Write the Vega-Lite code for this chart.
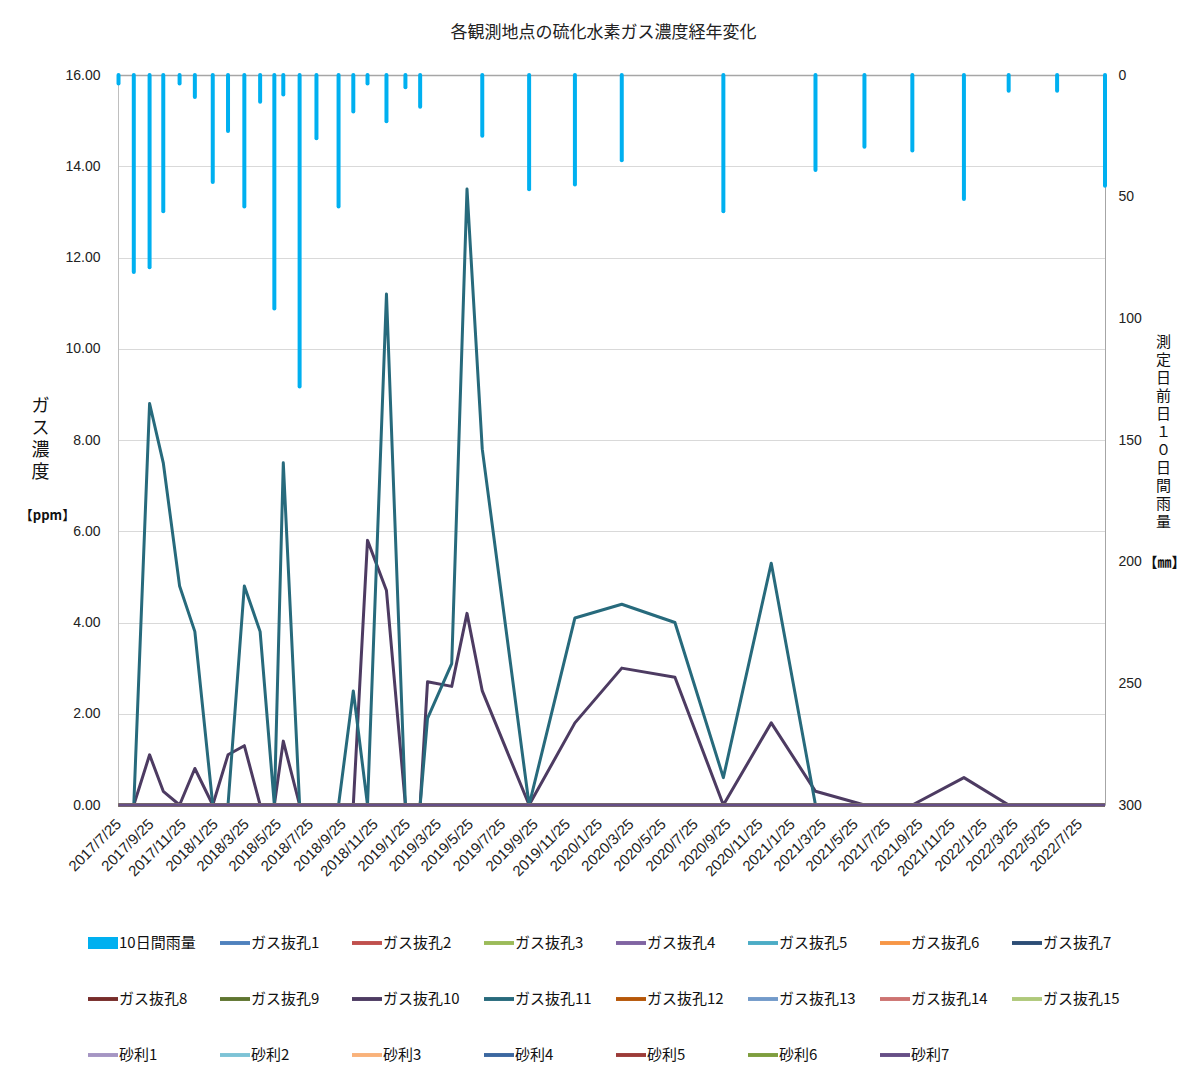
{
  "$schema": "https://vega.github.io/schema/vega-lite/v6.json",
  "autosize": {"type": "none"},
  "width": 987,
  "height": 730,
  "padding": {"left": 118, "top": 75, "right": 83, "bottom": 283},
  "background": "white",
  "config": {"view": {"stroke": null}, "font": "Noto Sans CJK JP"},
  "title": {"text": "各観測地点の硫化水素ガス濃度経年変化", "fontSize": 17, "font": "Noto Sans CJK JP", "fontWeight": "normal", "color": "#222", "offset": 26, "dx": -8},
  "data": {"values": [
    {"d":"2017/07/26","rain":3.5,"ガス抜孔1":0,"ガス抜孔2":0,"ガス抜孔3":0,"ガス抜孔4":0,"ガス抜孔5":0,"ガス抜孔6":0,"ガス抜孔7":0,"ガス抜孔8":0,"ガス抜孔9":0,"ガス抜孔10":0,"ガス抜孔11":0,"ガス抜孔12":0,"ガス抜孔13":0,"ガス抜孔14":0,"ガス抜孔15":0,"砂利1":0,"砂利2":0,"砂利3":0,"砂利4":0,"砂利5":0,"砂利6":0,"砂利7":0},
    {"d":"2017/08/24","rain":81,"ガス抜孔1":0,"ガス抜孔2":0,"ガス抜孔3":0,"ガス抜孔4":0,"ガス抜孔5":0,"ガス抜孔6":0,"ガス抜孔7":0,"ガス抜孔8":0,"ガス抜孔9":0,"ガス抜孔10":0,"ガス抜孔11":0,"ガス抜孔12":0,"ガス抜孔13":0,"ガス抜孔14":0,"ガス抜孔15":0,"砂利1":0,"砂利2":0,"砂利3":0,"砂利4":0,"砂利5":0,"砂利6":0,"砂利7":0},
    {"d":"2017/09/23","rain":79,"ガス抜孔1":0,"ガス抜孔2":0,"ガス抜孔3":0,"ガス抜孔4":0,"ガス抜孔5":0,"ガス抜孔6":0,"ガス抜孔7":0,"ガス抜孔8":0,"ガス抜孔9":0,"ガス抜孔10":1.1,"ガス抜孔11":8.8,"ガス抜孔12":0,"ガス抜孔13":0,"ガス抜孔14":0,"ガス抜孔15":0,"砂利1":0,"砂利2":0,"砂利3":0,"砂利4":0,"砂利5":0,"砂利6":0,"砂利7":0},
    {"d":"2017/10/19","rain":56,"ガス抜孔1":0,"ガス抜孔2":0,"ガス抜孔3":0,"ガス抜孔4":0,"ガス抜孔5":0,"ガス抜孔6":0,"ガス抜孔7":0,"ガス抜孔8":0,"ガス抜孔9":0,"ガス抜孔10":0.3,"ガス抜孔11":7.5,"ガス抜孔12":0,"ガス抜孔13":0,"ガス抜孔14":0,"ガス抜孔15":0,"砂利1":0,"砂利2":0,"砂利3":0,"砂利4":0,"砂利5":0,"砂利6":0,"砂利7":0},
    {"d":"2017/11/19","rain":3.5,"ガス抜孔1":0,"ガス抜孔2":0,"ガス抜孔3":0,"ガス抜孔4":0,"ガス抜孔5":0,"ガス抜孔6":0,"ガス抜孔7":0,"ガス抜孔8":0,"ガス抜孔9":0,"ガス抜孔10":0,"ガス抜孔11":4.8,"ガス抜孔12":0,"ガス抜孔13":0,"ガス抜孔14":0,"ガス抜孔15":0,"砂利1":0,"砂利2":0,"砂利3":0,"砂利4":0,"砂利5":0,"砂利6":0,"砂利7":0},
    {"d":"2017/12/18","rain":9,"ガス抜孔1":0,"ガス抜孔2":0,"ガス抜孔3":0,"ガス抜孔4":0,"ガス抜孔5":0,"ガス抜孔6":0,"ガス抜孔7":0,"ガス抜孔8":0,"ガス抜孔9":0,"ガス抜孔10":0.8,"ガス抜孔11":3.8,"ガス抜孔12":0,"ガス抜孔13":0,"ガス抜孔14":0,"ガス抜孔15":0,"砂利1":0,"砂利2":0,"砂利3":0,"砂利4":0,"砂利5":0,"砂利6":0,"砂利7":0},
    {"d":"2018/01/21","rain":44,"ガス抜孔1":0,"ガス抜孔2":0,"ガス抜孔3":0,"ガス抜孔4":0,"ガス抜孔5":0,"ガス抜孔6":0,"ガス抜孔7":0,"ガス抜孔8":0,"ガス抜孔9":0,"ガス抜孔10":0,"ガス抜孔11":0,"ガス抜孔12":0,"ガス抜孔13":0,"ガス抜孔14":0,"ガス抜孔15":0,"砂利1":0,"砂利2":0,"砂利3":0,"砂利4":0,"砂利5":0,"砂利6":0,"砂利7":0},
    {"d":"2018/02/19","rain":23,"ガス抜孔1":0,"ガス抜孔2":0,"ガス抜孔3":0,"ガス抜孔4":0,"ガス抜孔5":0,"ガス抜孔6":0,"ガス抜孔7":0,"ガス抜孔8":0,"ガス抜孔9":0,"ガス抜孔10":1.1,"ガス抜孔11":0,"ガス抜孔12":0,"ガス抜孔13":0,"ガス抜孔14":0,"ガス抜孔15":0,"砂利1":0,"砂利2":0,"砂利3":0,"砂利4":0,"砂利5":0,"砂利6":0,"砂利7":0},
    {"d":"2018/03/22","rain":54,"ガス抜孔1":0,"ガス抜孔2":0,"ガス抜孔3":0,"ガス抜孔4":0,"ガス抜孔5":0,"ガス抜孔6":0,"ガス抜孔7":0,"ガス抜孔8":0,"ガス抜孔9":0,"ガス抜孔10":1.3,"ガス抜孔11":4.8,"ガス抜孔12":0,"ガス抜孔13":0,"ガス抜孔14":0,"ガス抜孔15":0,"砂利1":0,"砂利2":0,"砂利3":0,"砂利4":0,"砂利5":0,"砂利6":0,"砂利7":0},
    {"d":"2018/04/21","rain":11,"ガス抜孔1":0,"ガス抜孔2":0,"ガス抜孔3":0,"ガス抜孔4":0,"ガス抜孔5":0,"ガス抜孔6":0,"ガス抜孔7":0,"ガス抜孔8":0,"ガス抜孔9":0,"ガス抜孔10":0,"ガス抜孔11":3.8,"ガス抜孔12":0,"ガス抜孔13":0,"ガス抜孔14":0,"ガス抜孔15":0,"砂利1":0,"砂利2":0,"砂利3":0,"砂利4":0,"砂利5":0,"砂利6":0,"砂利7":0},
    {"d":"2018/05/18","rain":96,"ガス抜孔1":0,"ガス抜孔2":0,"ガス抜孔3":0,"ガス抜孔4":0,"ガス抜孔5":0,"ガス抜孔6":0,"ガス抜孔7":0,"ガス抜孔8":0,"ガス抜孔9":0,"ガス抜孔10":0,"ガス抜孔11":0,"ガス抜孔12":0,"ガス抜孔13":0,"ガス抜孔14":0,"ガス抜孔15":0,"砂利1":0,"砂利2":0,"砂利3":0,"砂利4":0,"砂利5":0,"砂利6":0,"砂利7":0},
    {"d":"2018/06/04","rain":8,"ガス抜孔1":0,"ガス抜孔2":0,"ガス抜孔3":0,"ガス抜孔4":0,"ガス抜孔5":0,"ガス抜孔6":0,"ガス抜孔7":0,"ガス抜孔8":0,"ガス抜孔9":0,"ガス抜孔10":1.4,"ガス抜孔11":7.5,"ガス抜孔12":0,"ガス抜孔13":0,"ガス抜孔14":0,"ガス抜孔15":0,"砂利1":0,"砂利2":0,"砂利3":0,"砂利4":0,"砂利5":0,"砂利6":0,"砂利7":0},
    {"d":"2018/07/05","rain":128,"ガス抜孔1":0,"ガス抜孔2":0,"ガス抜孔3":0,"ガス抜孔4":0,"ガス抜孔5":0,"ガス抜孔6":0,"ガス抜孔7":0,"ガス抜孔8":0,"ガス抜孔9":0,"ガス抜孔10":0,"ガス抜孔11":0,"ガス抜孔12":0,"ガス抜孔13":0,"ガス抜孔14":0,"ガス抜孔15":0,"砂利1":0,"砂利2":0,"砂利3":0,"砂利4":0,"砂利5":0,"砂利6":0,"砂利7":0},
    {"d":"2018/08/06","rain":26,"ガス抜孔1":0,"ガス抜孔2":0,"ガス抜孔3":0,"ガス抜孔4":0,"ガス抜孔5":0,"ガス抜孔6":0,"ガス抜孔7":0,"ガス抜孔8":0,"ガス抜孔9":0,"ガス抜孔10":0,"ガス抜孔11":0,"ガス抜孔12":0,"ガス抜孔13":0,"ガス抜孔14":0,"ガス抜孔15":0,"砂利1":0,"砂利2":0,"砂利3":0,"砂利4":0,"砂利5":0,"砂利6":0,"砂利7":0},
    {"d":"2018/09/17","rain":54,"ガス抜孔1":0,"ガス抜孔2":0,"ガス抜孔3":0,"ガス抜孔4":0,"ガス抜孔5":0,"ガス抜孔6":0,"ガス抜孔7":0,"ガス抜孔8":0,"ガス抜孔9":0,"ガス抜孔10":0,"ガス抜孔11":0,"ガス抜孔12":0,"ガス抜孔13":0,"ガス抜孔14":0,"ガス抜孔15":0,"砂利1":0,"砂利2":0,"砂利3":0,"砂利4":0,"砂利5":0,"砂利6":0,"砂利7":0},
    {"d":"2018/10/15","rain":15,"ガス抜孔1":0,"ガス抜孔2":0,"ガス抜孔3":0,"ガス抜孔4":0,"ガス抜孔5":0,"ガス抜孔6":0,"ガス抜孔7":0,"ガス抜孔8":0,"ガス抜孔9":0,"ガス抜孔10":0,"ガス抜孔11":2.5,"ガス抜孔12":0,"ガス抜孔13":0,"ガス抜孔14":0,"ガス抜孔15":0,"砂利1":0,"砂利2":0,"砂利3":0,"砂利4":0,"砂利5":0,"砂利6":0,"砂利7":0},
    {"d":"2018/11/11","rain":3.5,"ガス抜孔1":0,"ガス抜孔2":0,"ガス抜孔3":0,"ガス抜孔4":0,"ガス抜孔5":0,"ガス抜孔6":0,"ガス抜孔7":0,"ガス抜孔8":0,"ガス抜孔9":0,"ガス抜孔10":5.8,"ガス抜孔11":0,"ガス抜孔12":0,"ガス抜孔13":0,"ガス抜孔14":0,"ガス抜孔15":0,"砂利1":0,"砂利2":0,"砂利3":0,"砂利4":0,"砂利5":0,"砂利6":0,"砂利7":0},
    {"d":"2018/12/17","rain":19,"ガス抜孔1":0,"ガス抜孔2":0,"ガス抜孔3":0,"ガス抜孔4":0,"ガス抜孔5":0,"ガス抜孔6":0,"ガス抜孔7":0,"ガス抜孔8":0,"ガス抜孔9":0,"ガス抜孔10":4.7,"ガス抜孔11":11.2,"ガス抜孔12":0,"ガス抜孔13":0,"ガス抜孔14":0,"ガス抜孔15":0,"砂利1":0,"砂利2":0,"砂利3":0,"砂利4":0,"砂利5":0,"砂利6":0,"砂利7":0},
    {"d":"2019/01/22","rain":5,"ガス抜孔1":0,"ガス抜孔2":0,"ガス抜孔3":0,"ガス抜孔4":0,"ガス抜孔5":0,"ガス抜孔6":0,"ガス抜孔7":0,"ガス抜孔8":0,"ガス抜孔9":0,"ガス抜孔10":0,"ガス抜孔11":0,"ガス抜孔12":0,"ガス抜孔13":0,"ガス抜孔14":0,"ガス抜孔15":0,"砂利1":0,"砂利2":0,"砂利3":0,"砂利4":0,"砂利5":0,"砂利6":0,"砂利7":0},
    {"d":"2019/02/19","rain":13,"ガス抜孔1":0,"ガス抜孔2":0,"ガス抜孔3":0,"ガス抜孔4":0,"ガス抜孔5":0,"ガス抜孔6":0,"ガス抜孔7":0,"ガス抜孔8":0,"ガス抜孔9":0,"ガス抜孔10":0,"ガス抜孔11":0,"ガス抜孔12":0,"ガス抜孔13":0,"ガス抜孔14":0,"ガス抜孔15":0,"砂利1":0,"砂利2":0,"砂利3":0,"砂利4":0,"砂利5":0,"砂利6":0,"砂利7":0},
    {"d":"2019/03/05","rain":null,"ガス抜孔1":0,"ガス抜孔2":0,"ガス抜孔3":0,"ガス抜孔4":0,"ガス抜孔5":0,"ガス抜孔6":0,"ガス抜孔7":0,"ガス抜孔8":0,"ガス抜孔9":0,"ガス抜孔10":2.7,"ガス抜孔11":1.9,"ガス抜孔12":0,"ガス抜孔13":0,"ガス抜孔14":0,"ガス抜孔15":0,"砂利1":0,"砂利2":0,"砂利3":0,"砂利4":0,"砂利5":0,"砂利6":0,"砂利7":0},
    {"d":"2019/04/20","rain":null,"ガス抜孔1":0,"ガス抜孔2":0,"ガス抜孔3":0,"ガス抜孔4":0,"ガス抜孔5":0,"ガス抜孔6":0,"ガス抜孔7":0,"ガス抜孔8":0,"ガス抜孔9":0,"ガス抜孔10":2.6,"ガス抜孔11":3.1,"ガス抜孔12":0,"ガス抜孔13":0,"ガス抜孔14":0,"ガス抜孔15":0,"砂利1":0,"砂利2":0,"砂利3":0,"砂利4":0,"砂利5":0,"砂利6":0,"砂利7":0},
    {"d":"2019/05/19","rain":null,"ガス抜孔1":0,"ガス抜孔2":0,"ガス抜孔3":0,"ガス抜孔4":0,"ガス抜孔5":0,"ガス抜孔6":0,"ガス抜孔7":0,"ガス抜孔8":0,"ガス抜孔9":0,"ガス抜孔10":4.2,"ガス抜孔11":13.5,"ガス抜孔12":0,"ガス抜孔13":0,"ガス抜孔14":0,"ガス抜孔15":0,"砂利1":0,"砂利2":0,"砂利3":0,"砂利4":0,"砂利5":0,"砂利6":0,"砂利7":0},
    {"d":"2019/06/17","rain":25,"ガス抜孔1":0,"ガス抜孔2":0,"ガス抜孔3":0,"ガス抜孔4":0,"ガス抜孔5":0,"ガス抜孔6":0,"ガス抜孔7":0,"ガス抜孔8":0,"ガス抜孔9":0,"ガス抜孔10":2.5,"ガス抜孔11":7.8,"ガス抜孔12":0,"ガス抜孔13":0,"ガス抜孔14":0,"ガス抜孔15":0,"砂利1":0,"砂利2":0,"砂利3":0,"砂利4":0,"砂利5":0,"砂利6":0,"砂利7":0},
    {"d":"2019/09/14","rain":47,"ガス抜孔1":0,"ガス抜孔2":0,"ガス抜孔3":0,"ガス抜孔4":0,"ガス抜孔5":0,"ガス抜孔6":0,"ガス抜孔7":0,"ガス抜孔8":0,"ガス抜孔9":0,"ガス抜孔10":0,"ガス抜孔11":0,"ガス抜孔12":0,"ガス抜孔13":0,"ガス抜孔14":0,"ガス抜孔15":0,"砂利1":0,"砂利2":0,"砂利3":0,"砂利4":0,"砂利5":0,"砂利6":0,"砂利7":0},
    {"d":"2019/12/10","rain":45,"ガス抜孔1":0,"ガス抜孔2":0,"ガス抜孔3":0,"ガス抜孔4":0,"ガス抜孔5":0,"ガス抜孔6":0,"ガス抜孔7":0,"ガス抜孔8":0,"ガス抜孔9":0,"ガス抜孔10":1.8,"ガス抜孔11":4.1,"ガス抜孔12":0,"ガス抜孔13":0,"ガス抜孔14":0,"ガス抜孔15":0,"砂利1":0,"砂利2":0,"砂利3":0,"砂利4":0,"砂利5":0,"砂利6":0,"砂利7":0},
    {"d":"2020/03/08","rain":35,"ガス抜孔1":0,"ガス抜孔2":0,"ガス抜孔3":0,"ガス抜孔4":0,"ガス抜孔5":0,"ガス抜孔6":0,"ガス抜孔7":0,"ガス抜孔8":0,"ガス抜孔9":0,"ガス抜孔10":3.0,"ガス抜孔11":4.4,"ガス抜孔12":0,"ガス抜孔13":0,"ガス抜孔14":0,"ガス抜孔15":0,"砂利1":0,"砂利2":0,"砂利3":0,"砂利4":0,"砂利5":0,"砂利6":0,"砂利7":0},
    {"d":"2020/06/17","rain":null,"ガス抜孔1":0,"ガス抜孔2":0,"ガス抜孔3":0,"ガス抜孔4":0,"ガス抜孔5":0,"ガス抜孔6":0,"ガス抜孔7":0,"ガス抜孔8":0,"ガス抜孔9":0,"ガス抜孔10":2.8,"ガス抜孔11":4.0,"ガス抜孔12":0,"ガス抜孔13":0,"ガス抜孔14":0,"ガス抜孔15":0,"砂利1":0,"砂利2":0,"砂利3":0,"砂利4":0,"砂利5":0,"砂利6":0,"砂利7":0},
    {"d":"2020/09/17","rain":56,"ガス抜孔1":0,"ガス抜孔2":0,"ガス抜孔3":0,"ガス抜孔4":0,"ガス抜孔5":0,"ガス抜孔6":0,"ガス抜孔7":0,"ガス抜孔8":0,"ガス抜孔9":0,"ガス抜孔10":0,"ガス抜孔11":0.6,"ガス抜孔12":0,"ガス抜孔13":0,"ガス抜孔14":0,"ガス抜孔15":0,"砂利1":0,"砂利2":0,"砂利3":0,"砂利4":0,"砂利5":0,"砂利6":0,"砂利7":0},
    {"d":"2020/12/17","rain":null,"ガス抜孔1":0,"ガス抜孔2":0,"ガス抜孔3":0,"ガス抜孔4":0,"ガス抜孔5":0,"ガス抜孔6":0,"ガス抜孔7":0,"ガス抜孔8":0,"ガス抜孔9":0,"ガス抜孔10":1.8,"ガス抜孔11":5.3,"ガス抜孔12":0,"ガス抜孔13":0,"ガス抜孔14":0,"ガス抜孔15":0,"砂利1":0,"砂利2":0,"砂利3":0,"砂利4":0,"砂利5":0,"砂利6":0,"砂利7":0},
    {"d":"2021/03/11","rain":39,"ガス抜孔1":0,"ガス抜孔2":0,"ガス抜孔3":0,"ガス抜孔4":0,"ガス抜孔5":0,"ガス抜孔6":0,"ガス抜孔7":0,"ガス抜孔8":0,"ガス抜孔9":0,"ガス抜孔10":0.3,"ガス抜孔11":0,"ガス抜孔12":0,"ガス抜孔13":0,"ガス抜孔14":0,"ガス抜孔15":0,"砂利1":0,"砂利2":0,"砂利3":0,"砂利4":0,"砂利5":0,"砂利6":0,"砂利7":0},
    {"d":"2021/06/12","rain":29.5,"ガス抜孔1":0,"ガス抜孔2":0,"ガス抜孔3":0,"ガス抜孔4":0,"ガス抜孔5":0,"ガス抜孔6":0,"ガス抜孔7":0,"ガス抜孔8":0,"ガス抜孔9":0,"ガス抜孔10":0,"ガス抜孔11":0,"ガス抜孔12":0,"ガス抜孔13":0,"ガス抜孔14":0,"ガス抜孔15":0,"砂利1":0,"砂利2":0,"砂利3":0,"砂利4":0,"砂利5":0,"砂利6":0,"砂利7":0},
    {"d":"2021/09/11","rain":31,"ガス抜孔1":0,"ガス抜孔2":0,"ガス抜孔3":0,"ガス抜孔4":0,"ガス抜孔5":0,"ガス抜孔6":0,"ガス抜孔7":0,"ガス抜孔8":0,"ガス抜孔9":0,"ガス抜孔10":0,"ガス抜孔11":0,"ガス抜孔12":0,"ガス抜孔13":0,"ガス抜孔14":0,"ガス抜孔15":0,"砂利1":0,"砂利2":0,"砂利3":0,"砂利4":0,"砂利5":0,"砂利6":0,"砂利7":0},
    {"d":"2021/12/18","rain":51,"ガス抜孔1":0,"ガス抜孔2":0,"ガス抜孔3":0,"ガス抜孔4":0,"ガス抜孔5":0,"ガス抜孔6":0,"ガス抜孔7":0,"ガス抜孔8":0,"ガス抜孔9":0,"ガス抜孔10":0.6,"ガス抜孔11":0,"ガス抜孔12":0,"ガス抜孔13":0,"ガス抜孔14":0,"ガス抜孔15":0,"砂利1":0,"砂利2":0,"砂利3":0,"砂利4":0,"砂利5":0,"砂利6":0,"砂利7":0},
    {"d":"2022/03/13","rain":6.5,"ガス抜孔1":0,"ガス抜孔2":0,"ガス抜孔3":0,"ガス抜孔4":0,"ガス抜孔5":0,"ガス抜孔6":0,"ガス抜孔7":0,"ガス抜孔8":0,"ガス抜孔9":0,"ガス抜孔10":0,"ガス抜孔11":0,"ガス抜孔12":0,"ガス抜孔13":0,"ガス抜孔14":0,"ガス抜孔15":0,"砂利1":0,"砂利2":0,"砂利3":0,"砂利4":0,"砂利5":0,"砂利6":0,"砂利7":0},
    {"d":"2022/06/13","rain":6.5,"ガス抜孔1":0,"ガス抜孔2":0,"ガス抜孔3":0,"ガス抜孔4":0,"ガス抜孔5":0,"ガス抜孔6":0,"ガス抜孔7":0,"ガス抜孔8":0,"ガス抜孔9":0,"ガス抜孔10":0,"ガス抜孔11":0,"ガス抜孔12":0,"ガス抜孔13":0,"ガス抜孔14":0,"ガス抜孔15":0,"砂利1":0,"砂利2":0,"砂利3":0,"砂利4":0,"砂利5":0,"砂利6":0,"砂利7":0},
    {"d":"2022/09/12","rain":45.5,"ガス抜孔1":0,"ガス抜孔2":0,"ガス抜孔3":0,"ガス抜孔4":0,"ガス抜孔5":0,"ガス抜孔6":0,"ガス抜孔7":0,"ガス抜孔8":0,"ガス抜孔9":0,"ガス抜孔10":0,"ガス抜孔11":0,"ガス抜孔12":0,"ガス抜孔13":0,"ガス抜孔14":0,"ガス抜孔15":0,"砂利1":0,"砂利2":0,"砂利3":0,"砂利4":0,"砂利5":0,"砂利6":0,"砂利7":0}
  ]},
  "layer": [
    {
      "mark": {"type": "rule", "strokeWidth": 4, "strokeCap": "round"},
      "encoding": {
        "x": {"field": "d", "type": "temporal",
          "scale": {"domain": [{"year": 2017, "month": 7, "date": 25}, {"year": 2022, "month": 9, "date": 12}]},
          "axis": {"orient": "top", "labels": false, "ticks": false, "grid": false, "domainColor": "#A6A6A6", "domainWidth": 1.5,
            "title": "【㎜】", "titleX": 1046, "titleY": 487, "titleAngle": 0, "titleAlign": "center", "titleBaseline": "middle",
            "titleFont": "Noto Sans CJK JP", "titleFontSize": 14, "titleFontWeight": "bold", "titleColor": "#111"}},
        "y": {"field": "rain", "type": "quantitative",
          "scale": {"domain": [0, 300], "reverse": true},
          "axis": {"orient": "right", "values": [0, 50, 100, 150, 200, 250, 300], "grid": false, "ticks": false,
            "labelPadding": 13, "labelFont": "Liberation Sans", "labelFontSize": 14, "labelColor": "#222",
            "domainColor": "#A6A6A6",
            "title": ["測","定","日","前","日","１","０","日","間","雨","量"],
            "titleX": 58, "titleY": 259, "titleAngle": 0, "titleAlign": "center", "titleBaseline": "top",
            "titleFont": "Noto Sans CJK JP", "titleFontSize": 15, "titleFontWeight": "normal", "titleLineHeight": 18, "titleColor": "#111"}},
        "y2": {"datum": 0},
        "color": {"datum": "10日間雨量", "type": "nominal"}
      }
    },
    {
      "transform": [{"fold": ["ガス抜孔1","ガス抜孔2","ガス抜孔3","ガス抜孔4","ガス抜孔5","ガス抜孔6","ガス抜孔7","ガス抜孔8","ガス抜孔9","ガス抜孔10","ガス抜孔11","ガス抜孔12","ガス抜孔13","ガス抜孔14","ガス抜孔15","砂利1","砂利2","砂利3","砂利4","砂利5","砂利6","砂利7"], "as": ["series", "ppm"]}],
      "mark": {"type": "line", "strokeWidth": 3, "strokeJoin": "round"},
      "encoding": {
        "x": {"field": "d", "type": "temporal",
          "axis": {"orient": "bottom", "format": "%Y/%-m/%-d", "labelAngle": -45, "labelAlign": "right", "labelBaseline": "middle",
            "labelPadding": 16, "labelFont": "Liberation Sans", "labelFontSize": 15, "labelColor": "#222", "ticks": false, "grid": false,
            "domain": false, "labelOverlap": false,
            "values": [
              {"year":2017,"month":7,"date":25},{"year":2017,"month":9,"date":25},{"year":2017,"month":11,"date":25},
              {"year":2018,"month":1,"date":25},{"year":2018,"month":3,"date":25},{"year":2018,"month":5,"date":25},{"year":2018,"month":7,"date":25},{"year":2018,"month":9,"date":25},{"year":2018,"month":11,"date":25},
              {"year":2019,"month":1,"date":25},{"year":2019,"month":3,"date":25},{"year":2019,"month":5,"date":25},{"year":2019,"month":7,"date":25},{"year":2019,"month":9,"date":25},{"year":2019,"month":11,"date":25},
              {"year":2020,"month":1,"date":25},{"year":2020,"month":3,"date":25},{"year":2020,"month":5,"date":25},{"year":2020,"month":7,"date":25},{"year":2020,"month":9,"date":25},{"year":2020,"month":11,"date":25},
              {"year":2021,"month":1,"date":25},{"year":2021,"month":3,"date":25},{"year":2021,"month":5,"date":25},{"year":2021,"month":7,"date":25},{"year":2021,"month":9,"date":25},{"year":2021,"month":11,"date":25},
              {"year":2022,"month":1,"date":25},{"year":2022,"month":3,"date":25},{"year":2022,"month":5,"date":25},{"year":2022,"month":7,"date":25}
            ],
            "title": "【ppm】", "titleX": -71, "titleY": -290, "titleAngle": 0, "titleAlign": "center", "titleBaseline": "middle",
            "titleFont": "Noto Sans CJK JP", "titleFontSize": 13, "titleFontWeight": "bold", "titleColor": "#111"}},
        "y": {"field": "ppm", "type": "quantitative",
          "scale": {"domain": [0, 16]},
          "axis": {"orient": "left", "values": [0, 2, 4, 6, 8, 10, 12, 14, 16], "format": ".2f", "grid": true, "gridColor": "#D9D9D9",
            "ticks": false, "labelPadding": 18, "labelFont": "Liberation Sans", "labelFontSize": 14, "labelColor": "#222",
            "domainColor": "#BFBFBF",
            "title": ["ガ","ス","濃","度"], "titleX": -78, "titleY": 322, "titleAngle": 0, "titleAlign": "center", "titleBaseline": "top",
            "titleFont": "Noto Sans CJK JP", "titleFontSize": 18, "titleFontWeight": "normal", "titleLineHeight": 22, "titleColor": "#111"}},
        "color": {"field": "series", "type": "nominal",
          "scale": {
            "domain": ["10日間雨量","ガス抜孔1","ガス抜孔2","ガス抜孔3","ガス抜孔4","ガス抜孔5","ガス抜孔6","ガス抜孔7","ガス抜孔8","ガス抜孔9","ガス抜孔10","ガス抜孔11","ガス抜孔12","ガス抜孔13","ガス抜孔14","ガス抜孔15","砂利1","砂利2","砂利3","砂利4","砂利5","砂利6","砂利7"],
            "range": ["#00B0F0","#4F81BD","#C0504D","#9BBB59","#8064A2","#4BACC6","#F79646","#2C4D75","#772C2A","#5F7530","#4D3B62","#276A7C","#B65708","#729ACA","#CD7371","#AFC97A","#A595C3","#7DC3D6","#F9B27A","#3B67A0","#9C3B38","#7E9E3E","#664F86"]},
          "legend": {"orient": "none", "legendX": -30, "legendY": 853, "direction": "horizontal", "columns": 8, "title": null,
            "gridAlign": "all", "columnPadding": 24, "rowPadding": 33, "symbolSize": 900,
            "labelFont": "Noto Sans CJK JP", "labelFontSize": 15, "labelColor": "#111", "labelOffset": 1, "labelLimit": 200,
            "encode": {"symbols": {"update": {
              "shape": {"signal": "datum.value === '10日間雨量' ? 'M-1,-0.4H1V0.4H-1Z' : 'M-1,-0.13H1V0.13H-1Z'"},
              "fill": {"scale": "color", "field": "value"},
              "strokeWidth": {"value": 0},
              "opacity": {"value": 1}
            }}}}
        }
      }
    }
  ],
  "resolve": {"scale": {"y": "independent"}, "axis": {"x": "independent"}}
}
